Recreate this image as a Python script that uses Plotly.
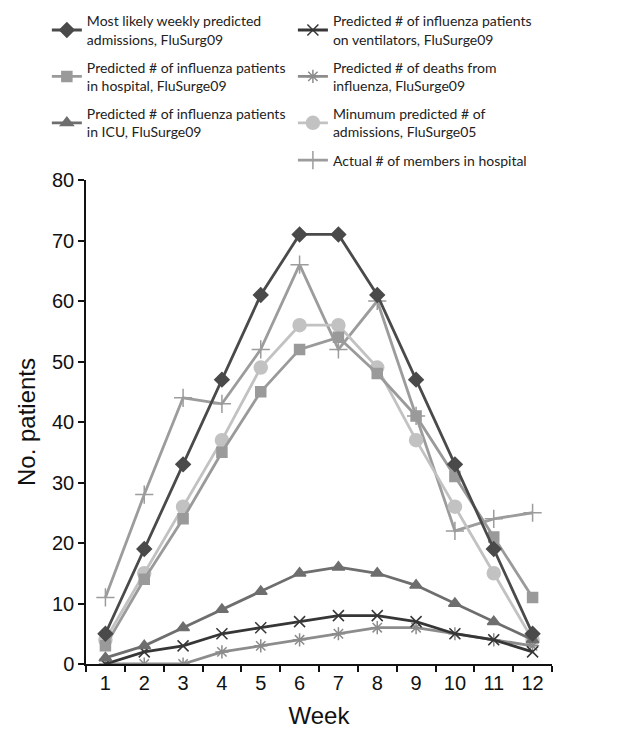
import plotly.graph_objects as go

weeks = ["1", "2", "3", "4", "5", "6", "7", "8", "9", "10", "11", "12"]
most_likely = [5, 19, 33, 47, 61, 71, 71, 61, 47, 33, 19, 5]
in_hospital = [3, 14, 24, 35, 45, 52, 54, 48, 41, 31, 21, 11]
in_icu = [1, 3, 6, 9, 12, 15, 16, 15, 13, 10, 7, 4]
ventilators = [0, 2, 3, 5, 6, 7, 8, 8, 7, 5, 4, 2]
deaths = [0, 0, 0, 2, 3, 4, 5, 6, 6, 5, 4, 3]
minimum_05 = [4, 15, 26, 37, 49, 56, 56, 49, 37, 26, 15, 4]
actual = [11, 28, 44, 43, 52, 66, 52, 60, 41, 22, 24, 25]

series = [
    ("Most likely weekly predicted<br>admissions, FluSurg09", most_likely, "#4a4a4a", "diamond", 11, "legend"),
    ("Predicted # of influenza patients<br>in hospital, FluSurge09", in_hospital, "#9a9a9a", "square", 10, "legend"),
    ("Predicted # of influenza patients<br>in ICU, FluSurge09", in_icu, "#6e6e6e", "triangle-up", 11, "legend"),
    ("Predicted # of influenza patients<br>on ventilators, FluSurge09", ventilators, "#363636", "x-thin-open", 11, "legend2"),
    ("Predicted # of deaths from<br>influenza, FluSurge09", deaths, "#8c8c8c", "asterisk-open", 11, "legend2"),
    ("Minumum predicted # of<br>admissions, FluSurge05", minimum_05, "#c2c2c2", "circle", 13, "legend2"),
    ("Actual # of members in hospital", actual, "#9c9c9c", "cross-thin-open", 13, "legend2"),
]

fig = go.Figure()
draw_order = [6, 5, 1, 4, 3, 2, 0]
for i in draw_order:
    name, vals, col, sym, sz, lg = series[i]
    fig.add_trace(go.Scatter(
        x=weeks, y=vals, name=name, mode="lines+markers",
        line=dict(color=col, width=2.8),
        marker=dict(symbol=sym, size=sz, color=col, line=dict(color=col, width=1.5)),
        legend=lg, legendrank=i, legendgroup="g%d" % i,
    ))

legend_common = dict(
    font=dict(family="Lato, Open Sans, sans-serif", size=14, color="#222"),
    bgcolor="rgba(0,0,0,0)", itemwidth=30, traceorder="grouped",
    tracegroupgap=7, yanchor="top", xanchor="left", itemclick=False,
)

fig.update_layout(
    width=617, height=734,
    margin=dict(l=78, r=73, t=172, b=78, autoexpand=False),
    paper_bgcolor="white", plot_bgcolor="white",
    font=dict(family="Liberation Sans, Arial, sans-serif", color="#111"),
    legend=dict(x=-0.084, y=1.361, **legend_common),
    legend2=dict(x=0.444, y=1.361, **legend_common),
    xaxis=dict(
        type="category", tickson="boundaries", range=[-0.5, 11.5],
        showline=True, linecolor="#111", linewidth=1.5,
        ticks="outside", ticklen=6, tickwidth=1.5, tickcolor="#111",
        tickfont=dict(size=20), showgrid=False, zeroline=False,
        title=dict(text="Week", font=dict(size=24), standoff=14),
    ),
    yaxis=dict(
        range=[0, 80], tickvals=[0, 10, 20, 30, 40, 50, 60, 70, 80],
        showline=True, linecolor="#111", linewidth=1.5,
        ticks="outside", ticklen=6, tickwidth=1.5, tickcolor="#111",
        tickfont=dict(size=20), showgrid=False, zeroline=False,
        title=dict(text="No. patients", font=dict(size=24), standoff=10),
    ),
)

fig.write_html("out.html")
